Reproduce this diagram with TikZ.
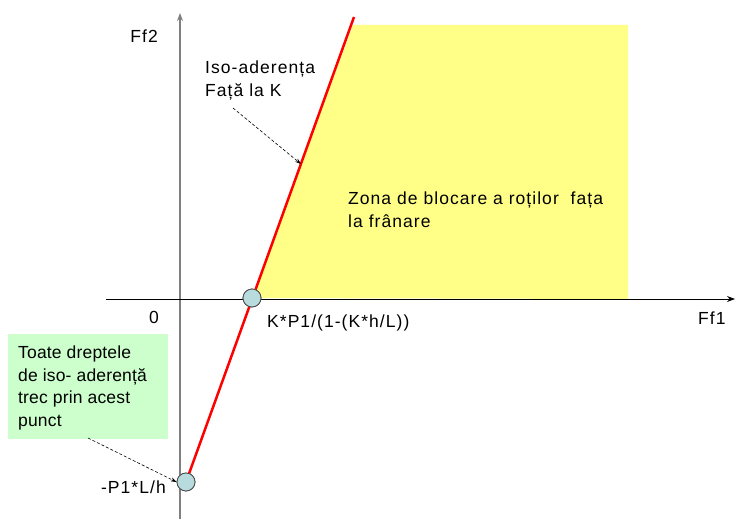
\documentclass[tikz,border=0pt]{standalone}
\usepackage{fontspec}
\setmainfont{Liberation Sans}[LetterSpace=6]
\usetikzlibrary{arrows.meta}
\definecolor{zoneyellow}{RGB}{255,255,136}
\definecolor{notegreen}{RGB}{204,255,204}
\definecolor{dotfill}{RGB}{184,220,222}
\definecolor{axisgray}{RGB}{128,128,128}
\tikzset{
  lbl/.style={inner sep=0pt, font=\fontsize{17.5}{23}\selectfont, align=left},
  dot/.style={circle, draw=black!70, fill=dotfill, minimum size=18pt, inner sep=0pt, line width=0.8pt},
  note/.style={densely dashed, line width=0.6pt, -{Stealth[length=6pt,width=4pt]}},
}
\begin{document}
\begin{tikzpicture}[x=1pt,y=-1pt]
\useasboundingbox (0,0) rectangle (735,519);
% zone
\fill[zoneyellow] (252,298) -- (353,25) -- (628,25) -- (628,299) -- cycle;
% axes
\draw[axisgray, line width=1.2pt, -{Stealth[length=8pt,width=6pt]}] (180,519) -- (180,13);
\draw[black, line width=1pt, -{Stealth[length=8pt,width=6pt]}] (106,299) -- (735,299);
% red line
\coordinate (top) at (354,17);
\node[dot] (c1) at (252,298) {};
\node[dot] (c2) at (186,482) {};
\draw[red, line width=2.5pt] (c2.center) -- (top);
\node[dot] at (252,298) {};
\node[dot] at (186,482) {};
% green note
\node[fill=notegreen, minimum width=160pt, minimum height=105pt, anchor=north west, inner sep=0pt] (gbox) at (8,334) {};
\node[lbl, anchor=north west, font=\fontsize{17.5}{22.5}\selectfont\addfontfeature{LetterSpace=1}] (gtext) at (18,346) {Toate dreptele\\de iso- aderență\\trec prin acest\\punct};
% labels
\node[lbl, anchor=base east] (ff2) at (158,43) {Ff2};
\node[lbl, anchor=base east] (zero) at (159,323) {0};
\node[lbl, anchor=base west] (kp) at (267,327) {K*P1/(1-(K*h/L))};
\node[lbl, anchor=base west] (ff1) at (698,324) {Ff1};
\node[lbl, anchor=base east] (pl) at (166,493) {-P1*L/h};
\node[lbl, anchor=north west] (iso) at (205,61) {Iso-aderența\\Față la K};
\node[lbl, anchor=north west] (zona) at (348,192) {Zona de blocare a roților\ \ fața\\la frânare};
% annotation arrows
\coordinate (isoA) at (233,108);
\coordinate (isoB) at (301,164);
\draw[note] (isoA) -- (isoB);
\coordinate (gA) at (88,438);
\draw[note] (gA) -- (c2.west);
\end{tikzpicture}
\end{document}
